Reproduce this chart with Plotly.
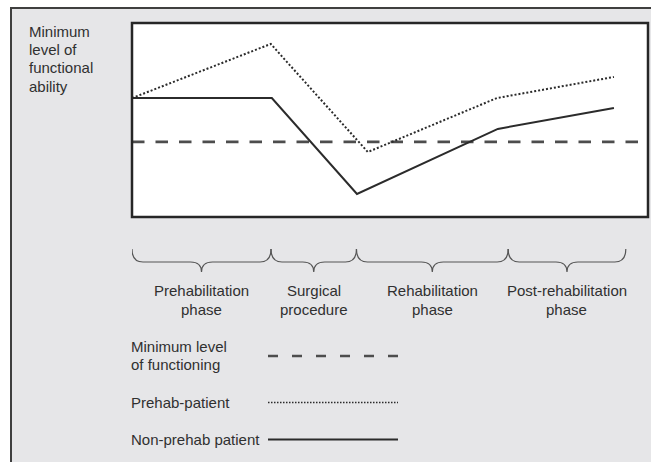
import plotly.graph_objects as go

# ---------------- data ----------------
prehab_x = [0, 26.9, 45.7, 70.7, 93.4]
prehab_y = [61.3, 89.2, 33.5, 61.3, 72.2]

nonprehab_x = [0, 27.1, 43.6, 70.9, 93.4]
nonprehab_y = [61.3, 61.3, 11.9, 45.4, 56.2]

minimum_x = [0, 100]
minimum_y = [38.7, 38.7]

phase_names = [["Prehabilitation", "phase"], ["Surgical", "procedure"],
               ["Rehabilitation", "phase"], ["Post-rehabilitation", "phase"]]
phase_bounds = [0, 26.94, 43.5, 72.9, 95.7]

y_label_lines = ["Minimum", "level of", "functional", "ability"]
legend_labels = [["Minimum level", "of functioning"], ["Prehab-patient"], ["Non-prehab patient"]]

# ---------------- layout helpers ----------------
W, H = 651, 462
L, R, T, B = 132, 648, 23, 217  # plot area in pixels
PW, PH = R - L, B - T


def px(X):
    return (X - L) / PW


def py(Y):
    return (B - Y) / PH


TXT = "#303030"
LINE = "#2b2b2b"
FONT = "Liberation Sans, Arial, Helvetica, sans-serif"

fig = go.Figure()

fig.add_trace(go.Scatter(x=minimum_x, y=minimum_y, mode="lines",
                         line=dict(color="#4d4d4d", width=2.7, dash="12.5px,11px"),
                         hoverinfo="skip", showlegend=False))
fig.add_trace(go.Scatter(x=prehab_x, y=prehab_y, mode="lines",
                         line=dict(color=LINE, width=2, dash="2px,2px"),
                         hoverinfo="skip", showlegend=False))
fig.add_trace(go.Scatter(x=nonprehab_x, y=nonprehab_y, mode="lines",
                         line=dict(color=LINE, width=2),
                         hoverinfo="skip", showlegend=False))

shapes = []
# outer grey panel
shapes.append(dict(type="rect", xref="paper", yref="paper", layer="below",
                   x0=px(11), x1=px(760), y0=py(8), y1=py(560),
                   fillcolor="#e6e6e8", line=dict(color="#3f3f3f", width=2)))
# white plot box
shapes.append(dict(type="rect", xref="paper", yref="paper", layer="below",
                   x0=0, x1=1, y0=0, y1=1,
                   fillcolor="white", line=dict(width=0)))
shapes.append(dict(type="rect", xref="paper", yref="paper", layer="above",
                   x0=0, x1=1, y0=0, y1=1,
                   fillcolor="rgba(0,0,0,0)", line=dict(color="#262626", width=2.5)))

# braces under each phase
yt, ym, yb = py(249), py(262), py(272)
r = 11 / PW * 100  # horizontal radius in data units
annotations = []
for i, lines in enumerate(phase_names):
    a, b = phase_bounds[i], phase_bounds[i + 1]
    c = (a + b) / 2
    path = (f"M {a},{yt} Q {a},{ym} {a + r},{ym} L {c - r},{ym} "
            f"Q {c},{ym} {c},{yb} Q {c},{ym} {c + r},{ym} "
            f"L {b - r},{ym} Q {b},{ym} {b},{yt}")
    shapes.append(dict(type="path", xref="x", yref="paper", path=path,
                       line=dict(color="#555555", width=1.2)))
    for j, t in enumerate(lines):
        annotations.append(dict(x=c, y=py(290 + 19 * j), xref="x", yref="paper",
                                text=t, showarrow=False, align="center",
                                xanchor="center", yanchor="middle",
                                font=dict(size=15, color=TXT, family=FONT)))

# y label (top-left)
for i, t in enumerate(y_label_lines):
    annotations.append(dict(x=px(27), y=py(31.2 + 18.3 * i), xref="paper", yref="paper",
                            text=t, showarrow=False, xanchor="left", yanchor="middle",
                            font=dict(size=15, color=TXT, family=FONT)))

# legend
leg_rows = [[346, 364.5], [402.5], [439.5]]
leg_line_y = [356, 402.5, 439.5]
leg_styles = [dict(color="#4d4d4d", width=2.5, dash="10px,14px"),
              dict(color=LINE, width=1.5, dash="1.5px,1.5px"),
              dict(color=LINE, width=1.8)]
for labels, ys, ly, st in zip(legend_labels, leg_rows, leg_line_y, leg_styles):
    for t, yy in zip(labels, ys):
        annotations.append(dict(x=px(129), y=py(yy), xref="paper", yref="paper",
                                text=t, showarrow=False, xanchor="left", yanchor="middle",
                                font=dict(size=15, color=TXT, family=FONT)))
    shapes.append(dict(type="line", xref="paper", yref="paper",
                       x0=px(268), x1=px(398), y0=py(ly), y1=py(ly), line=st))

fig.update_layout(
    width=W, height=H,
    margin=dict(l=L, r=W - R, t=T, b=H - B, pad=0),
    paper_bgcolor="white", plot_bgcolor="rgba(0,0,0,0)",
    xaxis=dict(range=[0, 100], visible=False, fixedrange=True),
    yaxis=dict(range=[0, 100], visible=False, fixedrange=True),
    shapes=shapes, annotations=annotations,
    showlegend=False,
)

fig.write_html("out.html", config={"displayModeBar": False},
               post_script="document.body.style.margin='0';document.body.style.overflow='hidden';")
